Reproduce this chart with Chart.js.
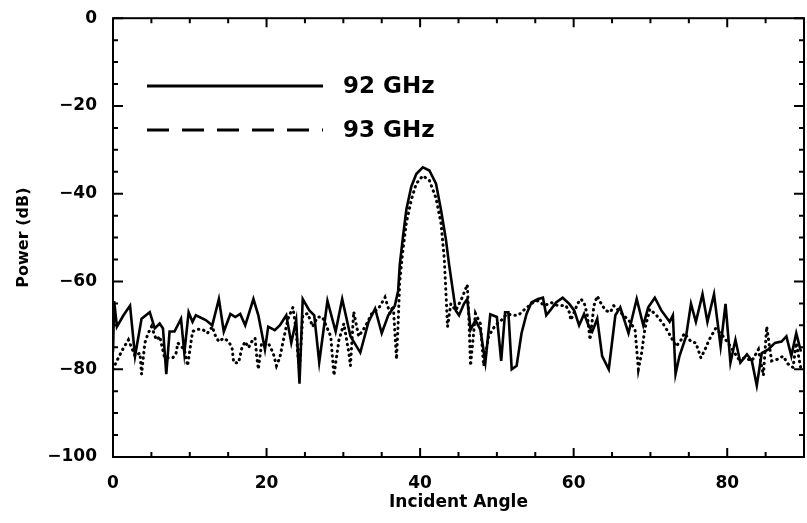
<!DOCTYPE html>
<html>
<head>
<meta charset="utf-8">
<script src="https://cdn.jsdelivr.net/npm/chart.js@4.4.0/dist/chart.umd.min.js"></script>
<style>
  html, body { margin: 0; padding: 0; background: #fff; overflow: hidden; }
  #wrap { width: 812px; height: 523px; }
</style>
</head>
<body>
<div id="wrap"><canvas id="powerChart" width="812" height="523"></canvas></div>
<script>
// 92 GHz (solid)
const angles92 = [0.0, 0.15, 0.51, 1.37, 2.22, 2.87, 3.72, 4.79, 5.44, 6.08, 6.51, 6.94, 7.37, 8.01, 8.86, 9.29, 9.85, 10.36, 10.79, 12.08,
  12.93, 13.79, 14.43, 15.29, 15.93, 16.57, 17.22, 18.29, 18.93, 19.79, 20.22, 21.07, 21.72, 22.57, 23.22, 23.86, 24.29, 24.71, 25.57, 26.21,
  26.86, 27.93, 29.0, 29.85, 30.93, 32.21, 33.28, 34.14, 35.0, 35.85, 36.71, 37.14, 37.35, 37.78, 38.21, 38.85, 39.5, 40.35, 41.21, 42.07,
  42.71, 43.35, 43.78, 44.21, 44.64, 45.07, 45.71, 46.14, 46.57, 47.21, 47.85, 48.5, 49.14, 50.0, 50.56, 51.07, 51.5, 51.93, 52.57, 53.21,
  53.86, 54.5, 55.36, 56.0, 56.43, 57.07, 57.71, 58.57, 59.43, 60.07, 60.71, 61.36, 62.0, 62.43, 63.07, 63.71, 64.57, 65.43, 66.07, 67.14,
  68.21, 69.07, 69.71, 70.57, 71.42, 72.5, 72.92, 73.27, 73.78, 74.64, 75.28, 75.92, 76.78, 77.42, 78.28, 79.14, 79.78, 80.42, 81.07, 81.71,
  82.57, 83.21, 83.85, 84.5, 85.35, 86.21, 87.07, 87.71, 88.35, 88.99, 89.6];
const power92 = [-76, -64.5, -70.3, -67.7, -65.5, -77, -68.5, -67, -70.7, -69.6, -70.7, -81.1, -71.4, -71.4, -68.5, -76.3, -67, -69.2, -67.7, -68.8,
  -70, -64, -71.4, -67.4, -68.1, -67.4, -70, -64, -67.7, -75.5, -70.3, -71.1, -70, -67.7, -74, -68.8, -83.3, -64, -66.6, -67.7,
  -78.4, -64.4, -71.4, -64, -72.5, -76.2, -69.2, -66.2, -71.8, -67.7, -65.5, -62.1, -56.2, -49.6, -43.6, -38.4, -35.5, -34, -34.7, -37.7,
  -43.6, -50.3, -56.2, -61.4, -66.6, -67.7, -65.1, -64, -71, -68.8, -71, -78.4, -67.5, -68.1, -78.1, -67, -67, -80, -79.2, -71.8,
  -67.4, -64.8, -64, -63.7, -67.7, -66.3, -64.8, -63.7, -65.1, -66.6, -70, -67.4, -70.3, -71.4, -68.5, -77, -80, -67.7, -65.9, -71.8,
  -64, -70, -65.9, -63.7, -66.6, -69.2, -67.7, -81.1, -77, -72.5, -65.1, -69.2, -62.9, -69.2, -62.9, -74.8, -65.1, -78.5, -73.3, -78.5,
  -76.6, -78.1, -83.7, -76.3, -75.5, -74, -73.7, -72.5, -77, -71.8, -76];

// 93 GHz (dotted)
const angles93 = [0.0, 0.5, 1.37, 2.01, 2.87, 3.51, 3.72, 4.15, 4.58, 5.01, 5.65, 6.08, 6.72, 7.79, 8.22, 8.44, 9.29, 9.72, 10.36, 11.0,
  11.65, 12.29, 12.93, 13.36, 13.79, 14.43, 15.07, 15.5, 15.72, 16.36, 16.79, 17.22, 17.65, 18.07, 18.5, 18.72, 18.93, 19.36, 20.22, 20.86,
  21.29, 21.72, 22.15, 22.79, 23.43, 23.86, 24.07, 24.29, 24.72, 25.36, 26.0, 26.64, 27.28, 28.36, 28.57, 28.78, 29.43, 30.07, 30.71, 30.93,
  31.35, 32.0, 32.85, 33.71, 34.57, 35.43, 36.07, 36.5, 36.93, 37.14, 37.35, 37.78, 38.21, 38.85, 39.5, 40.35, 41.21, 42.07, 42.71, 43.14,
  43.35, 43.57, 44.0, 44.64, 45.5, 46.14, 46.35, 46.57, 47.21, 47.85, 48.28, 48.92, 49.78, 50.5, 51.29, 52.14, 52.79, 53.64, 54.71, 55.36,
  56.21, 57.07, 57.93, 59.0, 59.43, 59.64, 60.5, 60.93, 61.36, 61.78, 62.13, 62.64, 63.07, 63.5, 64.14, 64.78, 65.21, 66.5, 67.35, 68.0,
  68.43, 68.85, 69.28, 69.93, 70.78, 71.64, 72.28, 73.35, 74.0, 74.42, 75.28, 75.92, 76.57, 77.21, 77.64, 78.5, 79.35, 80.42, 81.49, 82.35,
  83.21, 84.07, 84.71, 85.14, 85.78, 86.64, 87.28, 87.92, 88.57, 88.99, 89.6];
const power93 = [-80, -78.1, -75.1, -73.3, -77, -76.3, -81.1, -74, -71.8, -70.3, -73.3, -72.5, -77.4, -77.4, -76.3, -74, -75.5, -79.2, -71.4, -70.9,
  -70.9, -71.8, -70.3, -72.5, -73.7, -72.9, -73.7, -75.1, -78.5, -78.5, -75.1, -73.7, -75.1, -73.7, -72.9, -77, -80, -74, -74, -76.3,
  -79.2, -77.4, -73.7, -68.5, -65.9, -71.1, -76.6, -80, -67.7, -67.3, -70.3, -68.1, -68.1, -72.5, -77, -81.4, -73.3, -69.6, -76.2, -79.2,
  -66.9, -72.5, -70.3, -67.3, -66.2, -63.6, -67.3, -65.5, -77.7, -69.6, -59.9, -52.5, -46.6, -41.4, -37.7, -35.9, -37, -41, -46.6, -54.7,
  -62.1, -70.3, -65.1, -66.6, -63.6, -60.7, -68.1, -79.2, -67.3, -69.6, -79.2, -72.5, -70, -69, -67.4, -67.7, -67.7, -66.3, -64.8, -64.4,
  -65.5, -64.8, -65.5, -65.5, -67, -68.8, -65.1, -64, -64.8, -67.7, -73.3, -65.5, -63.3, -64.8, -66.6, -67, -65.5, -67.7, -69.2, -71.1,
  -80, -76.3, -70.7, -66.3, -67.7, -69.6, -71.4, -74.8, -73.3, -71.8, -73.7, -74, -77.4, -75.1, -73.3, -70.7, -72.2, -74.8, -77.7, -77.4,
  -78.1, -75.5, -81.4, -70.3, -78.1, -77.7, -77, -78.8, -79.6, -74, -80];

const seriesLabels = ['92 GHz', '93 GHz'];
const xTickStep = 20, xMinorStep = 5;
const yTickStep = 20, yMinorStep = 5;

const FONT = '"DejaVu Sans", "Liberation Sans", Arial, sans-serif';

function toPoints(xs, ys) {
    return xs.map((a, i) => ({ x: a, y: ys[i] }));
}

// box round the plot with inward ticks on all four sides (IDL style)
const frameTicks = {
    id: 'frameTicks',
    afterDraw(chart) {
        const { ctx, chartArea: a, scales: { x, y } } = chart;
        ctx.save();
        ctx.strokeStyle = '#000';
        ctx.lineWidth = 2;
        ctx.strokeRect(a.left, a.top, a.right - a.left, a.bottom - a.top);
        ctx.beginPath();
        for (let v = x.min; v <= x.max; v += xMinorStep) {
            const px = x.getPixelForValue(v);
            const len = v % xTickStep === 0 ? 9 : 5;
            ctx.moveTo(px, a.bottom); ctx.lineTo(px, a.bottom - len);
            ctx.moveTo(px, a.top); ctx.lineTo(px, a.top + len);
        }
        for (let v = y.min; v <= y.max; v += yMinorStep) {
            const py = y.getPixelForValue(v);
            const len = v % yTickStep === 0 ? 10 : 5;
            ctx.moveTo(a.left, py); ctx.lineTo(a.left + len, py);
            ctx.moveTo(a.right, py); ctx.lineTo(a.right - len, py);
        }
        ctx.stroke();
        ctx.restore();
    }
};

// legend drawn inside the plot, upper left
const insideLegend = {
    id: 'insideLegend',
    afterDraw(chart) {
        const ctx = chart.ctx;
        const rows = [
            { text: seriesLabels[0], y: 86, dash: [] },
            { text: seriesLabels[1], y: 130, dash: [22, 13] }
        ];
        ctx.save();
        ctx.strokeStyle = '#000';
        ctx.fillStyle = '#000';
        ctx.lineWidth = 3;
        ctx.font = 'bold 23px ' + FONT;
        ctx.textBaseline = 'middle';
        rows.forEach(r => {
            ctx.setLineDash(r.dash);
            ctx.beginPath();
            ctx.moveTo(147, r.y);
            ctx.lineTo(323, r.y);
            ctx.stroke();
            ctx.fillText(r.text, 343, r.y + 1);
        });
        ctx.restore();
    }
};

const ctx = document.getElementById('powerChart').getContext('2d');
new Chart(ctx, {
    type: 'line',
    data: {
        datasets: [{
            label: seriesLabels[0],
            data: toPoints(angles92, power92),
            borderColor: '#000',
            borderWidth: 2.6,
            pointRadius: 0,
            tension: 0
        }, {
            label: seriesLabels[1],
            data: toPoints(angles93, power93),
            borderColor: '#000',
            borderWidth: 3,
            borderDash: [0.5, 5],
            borderCapStyle: 'round',
            pointRadius: 0,
            tension: 0
        }]
    },
    options: {
        responsive: false,
        animation: false,
        layout: { padding: { top: 7, right: 3, left: 0, bottom: 0 } },
        plugins: {
            legend: { display: false },
            tooltip: { enabled: false }
        },
        scales: {
            x: {
                type: 'linear',
                min: 0,
                max: 90,
                grid: { display: false },
                border: { display: false },
                ticks: {
                    stepSize: xTickStep,
                    color: '#000',
                    padding: 8,
                    maxRotation: 0,
                    font: { family: FONT, size: 17, weight: 'bold' },
                    callback: v => (v % xTickStep === 0 ? v : '')
                },
                title: {
                    display: true,
                    text: 'Incident Angle',
                    color: '#000',
                    padding: { top: 0, bottom: 10 },
                    font: { family: FONT, size: 17, weight: 'bold' }
                },
                afterFit: s => { s.height = 66; }
            },
            y: {
                min: -100,
                max: 0,
                grid: { display: false },
                border: { display: false },
                ticks: {
                    stepSize: yTickStep,
                    color: '#000',
                    padding: 8,
                    font: { family: FONT, size: 17, weight: 'bold' },
                    callback: v => (v < 0 ? '\u2212' + Math.abs(v) : v)
                },
                title: {
                    display: true,
                    text: 'Power (dB)',
                    color: '#000',
                    padding: { top: 14, bottom: 0 },
                    font: { family: FONT, size: 16, weight: 'bold' }
                },
                afterFit: s => { s.width = 113; }
            }
        }
    },
    plugins: [frameTicks, insideLegend]
});
</script>
</body>
</html>
